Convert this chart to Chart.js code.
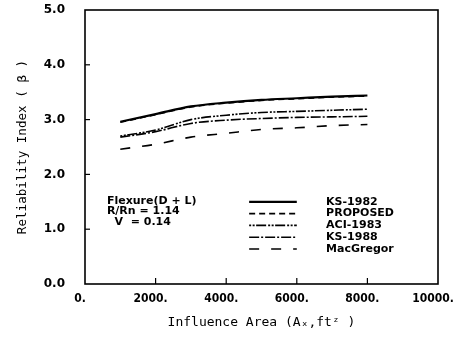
<!DOCTYPE html>
<html><head><meta charset="utf-8">
<script src="https://cdn.jsdelivr.net/npm/chart.js@4"></script>
<style>html,body{margin:0;padding:0;background:#fff}#wrap{width:456px;height:337px}</style>
</head><body><div id="wrap"><canvas id="c" width="456" height="337"></canvas></div>
<script>
const areas = [1000,2000,3000,4000,5000,6000,7000,8000];
const ks1982 = [2.96,3.10,3.24,3.31,3.36,3.39,3.42,3.44];
const proposed = [2.95,3.09,3.23,3.30,3.35,3.38,3.41,3.43];
const aci1983 = [2.70,2.81,3.00,3.08,3.13,3.15,3.17,3.19];
const ks1988 = [2.68,2.78,2.93,2.99,3.02,3.04,3.05,3.06];
const macgregor = [2.46,2.55,2.68,2.75,2.82,2.85,2.89,2.91];
const seriesNames = ['KS-1982','PROPOSED','ACI-1983','KS-1988','MacGregor'];
const xTickLabels = ['0.','2000.','4000.','6000.','8000.','10000.'];
const yTickLabels = ['0.0','1.0','2.0','3.0','4.0','5.0'];
const noteLines = ['Flexure(D + L)','R/Rn = 1.14','  V  = 0.14'];
const xTitle = 'Influence Area (Aₓ,ftᶻ )';
const yTitle = 'Reliability Index ( β )';

const series = [ks1982, proposed, aci1983, ks1988, macgregor];
const dashes = [[], [6,4], [2,1.5,2,1.5,10,2], [10,2,2,2], [10,12]];
const widths = [2.2, 1.6, 1.6, 1.6, 1.6];

const datasets = series.map((s,i)=>({
  label: seriesNames[i],
  data: s.map((v,j)=>({x:areas[j], y:v})),
  borderColor:'#000', borderWidth:widths[i], borderDash:dashes[i],
  pointRadius:0, fill:false, cubicInterpolationMode:'monotone'
}));

const deco = {
  id:'deco',
  afterDraw(chart){
    const ctx = chart.ctx, a = chart.chartArea;
    const xs = chart.scales.x, ys = chart.scales.y;
    ctx.save();
    ctx.strokeStyle='#000'; ctx.lineWidth=1.6; ctx.setLineDash([]);
    ctx.strokeRect(a.left, a.top, a.right-a.left, a.bottom-a.top);
    ctx.lineWidth=1.2;
    [1,2,3,4].forEach(v=>{const y=ys.getPixelForValue(v);ctx.beginPath();ctx.moveTo(a.left,y);ctx.lineTo(a.left+5,y);ctx.stroke();});
    [2000,4000,6000,8000].forEach(v=>{const x=xs.getPixelForValue(v);ctx.beginPath();ctx.moveTo(x,a.bottom);ctx.lineTo(x,a.bottom-6);ctx.stroke();});
    ctx.fillStyle='#000'; ctx.font='bold 11px "DejaVu Sans"'; ctx.textBaseline='middle'; ctx.textAlign='left';
    const nx = xs.getPixelForValue(620), ny0 = ys.getPixelForValue(1.52);
    noteLines.forEach((t,i)=>ctx.fillText(t, nx, ny0 + i*10.5));
    const lx0 = xs.getPixelForValue(4650), lx1 = xs.getPixelForValue(6000), tx = xs.getPixelForValue(6830);
    const ly0 = ys.getPixelForValue(1.5);
    chart.data.datasets.forEach((d,i)=>{
      const y = ly0 + i*11.8;
      ctx.lineWidth = d.borderWidth; ctx.setLineDash(d.borderDash);
      ctx.beginPath(); ctx.moveTo(lx0,y); ctx.lineTo(lx1,y); ctx.stroke();
      ctx.setLineDash([]);
      ctx.fillText(d.label, tx, y);
    });
    ctx.restore();
  }
};

new Chart(document.getElementById('c'), {
  type:'line',
  data:{datasets},
  options:{
    responsive:false, animation:false, events:[],
    layout:{padding:{top:10,right:18,left:0,bottom:0}},
    plugins:{legend:{display:false}, tooltip:{enabled:false}},
    scales:{
      x:{type:'linear', min:0, max:10000,
        afterFit(s){s.height=53; s.paddingLeft=0; s.paddingRight=0;},
        afterBuildTicks(s){s.ticks=[0,2000,4000,6000,8000,10000].map(v=>({value:v}));},
        grid:{display:false, drawTicks:false, tickLength:0}, border:{display:false},
        ticks:{color:'#000', padding:8, labelOffset:-5, maxRotation:0, font:{family:'"DejaVu Sans Condensed","DejaVu Sans"',weight:'bold',size:12},
          callback:(v,i)=>xTickLabels[i]},
        title:{display:true, text:xTitle, color:'#000', font:{family:'"DejaVu Sans Mono"',size:13}, padding:{top:8,bottom:7}}
      },
      y:{min:0, max:5,
        afterFit(s){s.width=85; s.paddingTop=0; s.paddingBottom=0;},
        afterBuildTicks(s){s.ticks=[0,1,2,3,4,5].map(v=>({value:v}));},
        grid:{display:false, drawTicks:false, tickLength:0}, border:{display:false},
        ticks:{color:'#000', padding:20, font:{family:'"DejaVu Sans"',weight:'bold',size:12},
          callback:(v,i)=>yTickLabels[i]},
        title:{display:true, text:yTitle, color:'#000', font:{family:'"DejaVu Sans Mono"',size:12.6}, padding:{top:15,bottom:0}}
      }
    }
  },
  plugins:[deco]
});
</script></body></html>
